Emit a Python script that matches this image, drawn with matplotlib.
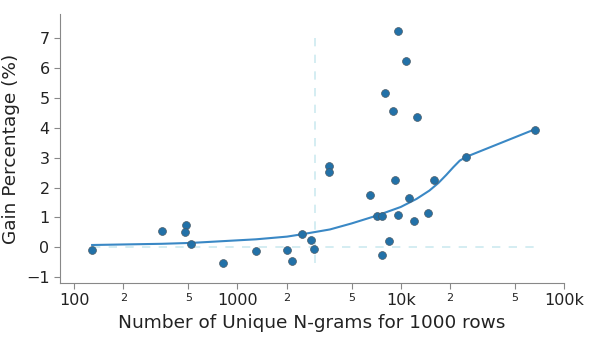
import numpy as np
import matplotlib
matplotlib.use("Agg")
import matplotlib.pyplot as plt

# scatter data (unique n-grams, gain %)
ngrams = [129, 344, 487, 475, 522, 813, 1300, 2013, 2160,
          2495, 2831, 2930, 3623, 3639, 6500, 7115, 7704, 7645, 8000,
          8466, 8960, 9180, 9660, 9610, 10770, 11180, 12050, 12620,
          14730, 15950, 25290, 66530]
gain = [-0.09, 0.54, 0.74, 0.52, 0.12, -0.51, -0.13, -0.09, -0.45,
        0.46, 0.25, -0.05, 2.73, 2.51, 1.76, 1.05, 1.05, -0.24, 5.16,
        0.23, 4.57, 2.25, 7.24, 1.07, 6.24, 1.66, 0.88, 4.37,
        1.14, 2.25, 3.01, 3.93]

# smoothed trend line
trend_x = [129, 344, 522, 1300, 2013, 2495, 3690, 5000, 7115, 10000, 12500,
           15000, 17000, 19000, 21000, 23000, 25290, 66530]
trend_y = [0.08, 0.12, 0.15, 0.27, 0.36, 0.44, 0.60, 0.80, 1.06, 1.35, 1.62,
           1.90, 2.15, 2.42, 2.68, 2.90, 3.03, 3.95]

threshold = 3000

major_ticks = [100, 1000, 10000, 100000]
major_labels = ["100", "1000", "10k", "100k"]
minor_ticks = [200, 500, 2000, 5000, 20000, 50000]
minor_labels = ["2", "5", "2", "5", "2", "5"]

fig = plt.figure(figsize=(5.98, 3.47), dpi=100)
ax = fig.add_axes([60/598, 1-283/347, (564-60)/598, (283-14)/347])

ax.set_xscale("log")
ax.vlines(threshold, min(gain), max(gain), colors="#cdeaf0", linestyles=(0, (5, 5)), lw=1.2, zorder=1)
ax.hlines(0, min(ngrams), max(ngrams), colors="#cdeaf0", linestyles=(0, (5, 5)), lw=1.2, zorder=1)
ax.plot(trend_x, trend_y, color="#3a88c5", lw=1.5, zorder=2)
ax.scatter(ngrams, gain, s=32, color="#2271a8", edgecolor="#4a5a66", linewidth=0.5, zorder=3)

ax.set_xlim(82, 100000)
ax.set_ylim(-1.19, 7.8)

ax.set_xticks(major_ticks + minor_ticks)
ax.set_xticklabels(major_labels + minor_labels)
ax.xaxis.set_minor_locator(matplotlib.ticker.NullLocator())
for lab, val in zip(ax.get_xticklabels(), major_ticks + minor_ticks):
    if val in minor_ticks:
        lab.set_fontsize(8)
    else:
        lab.set_fontsize(11.5)
ax.set_yticks([-1, 0, 1, 2, 3, 4, 5, 6, 7])
ax.set_yticklabels(["\u22121", "0", "1", "2", "3", "4", "5", "6", "7"], fontsize=11.5)

for s in ["top", "right"]:
    ax.spines[s].set_visible(False)
for s in ["left", "bottom"]:
    ax.spines[s].set_color("#888888")
ax.tick_params(colors="#888888", labelcolor="#222222", length=4)

ax.set_xlabel("Number of Unique N-grams for 1000 rows", fontsize=13.3, color="#222222")
ax.set_ylabel("Gain Percentage (%)", fontsize=13.3, color="#222222")

fig.savefig("out.png", dpi=100)
